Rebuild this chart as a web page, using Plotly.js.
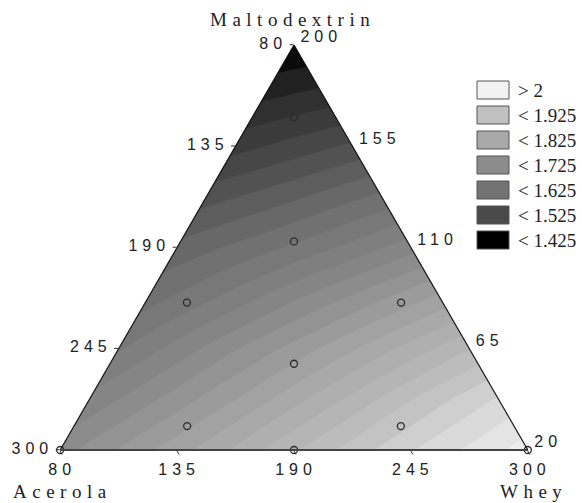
<!DOCTYPE html>
<html><head><meta charset="utf-8">
<script src="https://cdn.plot.ly/plotly-3.0.1.min.js"></script>
<style>
html,body{margin:0;padding:0;background:#fff;}
.ternarylayer .xtick text, .ternarylayer .ytick text {letter-spacing:5px;}
text[data-unformatted="Maltodextrin"], text[data-unformatted="Acerola"], text[data-unformatted="Whey"] {letter-spacing:5.5px;}
</style></head><body>
<div id="chart" style="width:582px;height:503px;"></div>
<script>
// ---- data (pseudo-component fractions; response read from the shading) ----
var gridX = [0, 0.125, 0.25, 0.375, 0.5, 0.625, 0.75, 0.875, 1];
var gridA = [0, 0.125, 0.25, 0.375, 0.5, 0.625, 0.75, 0.875, 1];
var response = [
  [1.715, 1.752, 1.790, 1.830, 1.872, 1.912, 1.948, 1.980, 2.012],
  [1.662, 1.700, 1.737, 1.775, 1.816, 1.857, 1.899, 1.937, 1.970],
  [1.610, 1.647, 1.685, 1.723, 1.759, 1.797, 1.835, 1.874, 1.914],
  [1.572, 1.600, 1.629, 1.661, 1.696, 1.730, 1.765, 1.799, 1.832],
  [1.542, 1.562, 1.583, 1.605, 1.630, 1.658, 1.689, 1.721, 1.755],
  [1.490, 1.509, 1.529, 1.549, 1.570, 1.594, 1.619, 1.647, 1.677],
  [1.434, 1.452, 1.470, 1.490, 1.510, 1.530, 1.550, 1.570, 1.591],
  [1.402, 1.414, 1.426, 1.437, 1.452, 1.467, 1.486, 1.506, 1.526],
  [1.358, 1.369, 1.379, 1.389, 1.400, 1.411, 1.421, 1.431, 1.442]
];
var designMalto   = [0.822, 0.515, 0.364, 0.364, 0.213, 0.059, 0.059, 0.0, 0.0, 0.0];
var designAcerola = [0.089, 0.2425, 0.547, 0.089, 0.3935, 0.699, 0.242, 0.5, 1.0, 0.0];
var designWhey    = [0.089, 0.2425, 0.089, 0.547, 0.3935, 0.242, 0.699, 0.5, 0.0, 1.0];

var leftTickVals = [0, 0.25, 0.5, 0.75, 1];
var leftTickText = ['300', '245', '190', '135', '80'];      // Acerola
var bottomTickVals = [1, 0.75, 0.5, 0.25, 0];
var bottomTickText = ['80', '135', '190', '245', '300'];    // Whey
var rightTickVals = [0, 0.25, 0.5, 0.75, 1];
var rightTickText = ['200', '155', '110', '65', '20'];      // Maltodextrin

var legendLabels = ['&gt; 2', '&lt; 1.925', '&lt; 1.825', '&lt; 1.725', '&lt; 1.625', '&lt; 1.525', '&lt; 1.425'];
var legendColors = ['#f2f2f2', '#c0c0c0', '#a8a8a8', '#8c8c8c', '#737373', '#4a4a4a', '#000000'];

var scaleValues = [1.40, 1.45, 1.525, 1.575, 1.625, 1.725, 1.825, 1.925, 2.0, 2.05];
var scaleColors = ['#000000', '#2a2a2a', '#4a4a4a', '#606060', '#737373', '#8c8c8c', '#a8a8a8', '#c0c0c0', '#e0e0e0', '#f2f2f2'];

// ---- layout geometry ----
var W = 582, H = 503;
var M = {l: 60, r: 54, t: 45, b: 53};
var gw = W - M.l - M.r, gh = H - M.t - M.b;
var triW = gh * 2 / Math.sqrt(3);
var xpad = (gw - triW) / 2 / triW;
function px(x) { return (x - M.l) / gw; }
function py(y) { return (M.t + gh - y) / gh; }

var zmin = scaleValues[0], zmax = scaleValues[scaleValues.length - 1];
var colorscale = scaleValues.map(function (v, i) { return [(v - zmin) / (zmax - zmin), scaleColors[i]]; });

var serif = 'Liberation Serif, Times New Roman, serif';
var sans = 'Liberation Sans, Arial, sans-serif';

// white masks outside the triangle (cartesian layer, below the ternary frame)
function mask(xs, ys) {
  return {type: 'scatter', x: xs, y: ys, mode: 'lines', fill: 'toself', fillcolor: '#ffffff',
    line: {width: 0, color: '#ffffff'}, hoverinfo: 'skip', showlegend: false, xaxis: 'x', yaxis: 'y'};
}

var traces = [
  {
    type: 'contour', x: gridX, y: gridA, z: response,
    xaxis: 'x', yaxis: 'y',
    colorscale: colorscale, zmin: zmin, zmax: zmax, zauto: false,
    contours: {coloring: 'fill', start: 1.40, end: 2.05, size: 0.025, showlines: false},
    line: {width: 0, smoothing: 1.3},
    showscale: false, hoverinfo: 'skip'
  },
  mask([-0.2, 0, 0.5, 0.6, -0.2], [-0.1, 0, 1, 1.2, 1.2]),
  mask([1.2, 1, 0.5, 0.4, 1.2], [-0.1, 0, 1, 1.2, 1.2]),
  {
    type: 'scatterternary', mode: 'markers', subplot: 'ternary',
    a: designMalto, b: designAcerola, c: designWhey,
    marker: {symbol: 'circle-open', size: 7, color: '#2a2a2a', line: {width: 1.3}},
    cliponaxis: false, showlegend: false, hoverinfo: 'skip'
  }
];

function ternAxis(vals, text, lw, lc, tlen, tcol) {
  return {
    min: 0, tickmode: 'array', tickvals: vals, ticktext: text,
    showgrid: false, showline: true, linecolor: lc, linewidth: lw,
    ticks: 'outside', ticklen: tlen, tickcolor: tcol,
    tickfont: {family: sans, size: 16, color: '#222'},
    title: {text: ''}
  };
}

var shapes = [];
var annotations = [
  {text: 'Maltodextrin', xref: 'paper', yref: 'paper', x: px(292), y: py(20), xanchor: 'center', yanchor: 'middle', showarrow: false, font: {family: serif, size: 19, color: '#222'}},
  {text: 'Acerola', xref: 'paper', yref: 'paper', x: px(62), y: py(492), xanchor: 'center', yanchor: 'middle', showarrow: false, font: {family: serif, size: 19, color: '#222'}},
  {text: 'Whey', xref: 'paper', yref: 'paper', x: px(533), y: py(492), xanchor: 'center', yanchor: 'middle', showarrow: false, font: {family: serif, size: 19, color: '#222'}}
];
legendLabels.forEach(function (lab, i) {
  var top = 81 + 25 * i;
  shapes.push({type: 'rect', xref: 'paper', yref: 'paper', x0: px(477), x1: px(509), y0: py(top + 18), y1: py(top),
    fillcolor: legendColors[i], line: {color: '#555555', width: 1}});
  annotations.push({text: lab, xref: 'paper', yref: 'paper', x: px(516), y: py(top + 9), xanchor: 'left', yanchor: 'middle',
    showarrow: false, font: {family: serif, size: 19, color: '#222'}});
});

var layout = {
  width: W, height: H, margin: M,
  paper_bgcolor: '#ffffff', plot_bgcolor: '#ffffff',
  showlegend: false,
  xaxis: {domain: [0, 1], range: [-xpad, 1 + xpad], visible: false, fixedrange: true},
  yaxis: {domain: [0, 1], range: [0, 1], visible: false, fixedrange: true},
  ternary: {
    domain: {x: [0, 1], y: [0, 1]}, sum: 1, bgcolor: 'rgba(0,0,0,0)',
    aaxis: ternAxis(leftTickVals, leftTickText, 1.2, '#111', 4, '#333'),
    baxis: ternAxis(bottomTickVals, bottomTickText, 2, '#444', 4, '#333'),
    caxis: ternAxis(rightTickVals, rightTickText, 1.2, '#111', 7, 'rgba(0,0,0,0)')
  },
  shapes: shapes, annotations: annotations
};

Plotly.newPlot('chart', traces, layout, {staticPlot: true, displayModeBar: false});
</script>
</body></html>
